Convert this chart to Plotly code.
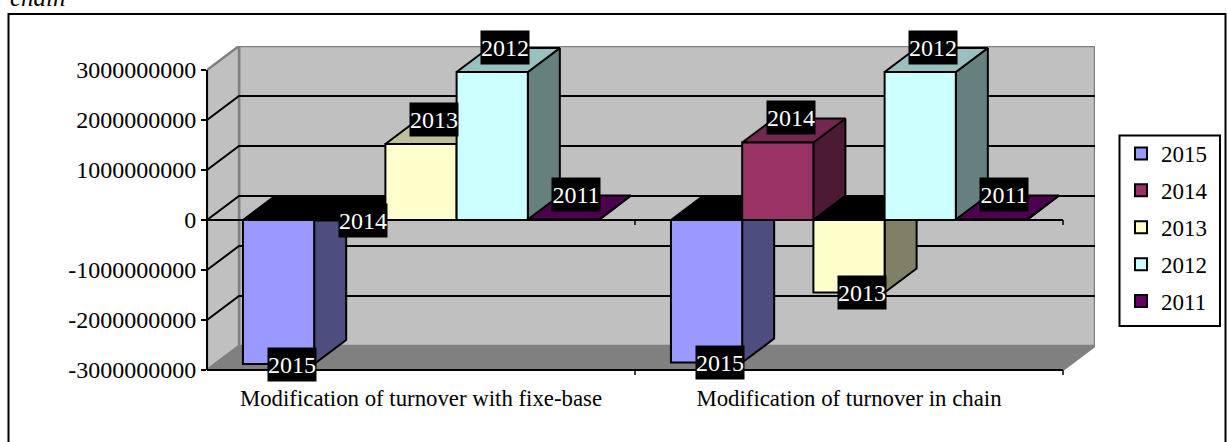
import plotly.graph_objects as go

categories = ["Modification of turnover with fixe-base", "Modification of turnover in chain"]
years = ["2015", "2014", "2013", "2012", "2011"]
values_2015 = [-2880000000, -2850000000]
values_2014 = [-10000000, 1550000000]
values_2013 = [1520000000, -1450000000]
values_2012 = [2960000000, 2960000000]
values_2011 = [10000000, 10000000]
y_ticks = [3000000000, 2000000000, 1000000000, 0, -1000000000, -2000000000, -3000000000]
y_tick_labels = [str(v) for v in y_ticks]

series = [values_2015, values_2014, values_2013, values_2012, values_2011]
front = ["#9999FF", "#993366", "#FFFFCC", "#CCFFFF", "#660066"]
side = ["#4D4D80", "#4D1A33", "#808066", "#668080", "#330033"]
top = ["#7373BF", "#732650", "#BFBF99", "#99BFBF", "#4D004D"]

# layout in pixels
W, H = 1227, 442
L, R, T, B = 207, 1095, 46, 370
CAT_PX = 428
UNIT_PX = 50  # per 1e9
DX_PX, DY_PX = 32, 24
BARGAP = 0.168
FONT = "Liberation Serif"

dx = DX_PX / CAT_PX
dy = DY_PX / UNIT_PX * 1e9
x_min, x_max = -0.5, 1.5 + dx
y_min, y_max = -3e9, 3e9 + dy
bar_w = (1 - BARGAP) / len(years)


def px(xp):
    return (xp - L) / (R - L)


def py(yp):
    return (B - yp) / (B - T)


fig = go.Figure()


def poly(xs, ys, fill, line="black", lw=2, closed=True):
    if closed:
        xs, ys = xs + xs[:1], ys + ys[:1]
    fig.add_trace(go.Scatter(
        x=xs, y=ys, mode="lines", fill="toself" if closed else None, fillcolor=fill,
        line=dict(color=line, width=lw), showlegend=False, hoverinfo="skip",
        cliponaxis=False, xaxis="x", yaxis="y"))


# gridlines on the back wall and left wall (the outermost edges stay grey)
for v in y_ticks[1:-1]:
    poly([x_min, x_min + dx, x_max], [v, v + dy, v + dy], None, closed=False)

# depth faces, left to right
for c in range(len(categories)):
    for i, vals in enumerate(series):
        v = vals[c]
        x0 = c - (1 - BARGAP) / 2 + i * bar_w
        x1 = x0 + bar_w
        poly([x1, x1 + dx, x1 + dx, x1], [0, dy, v + dy, v], side[i])
        t = max(v, 0)
        poly([x0, x1, x1 + dx, x0 + dx], [t, t, t + dy, t + dy], top[i] if v >= 0 else "#000000")

# bar fronts on the overlaid axes
for i, vals in enumerate(series):
    fig.add_trace(go.Bar(
        x=[0, 1], y=vals, name=years[i], xaxis="x2", yaxis="y2", legendgroup=years[i],
        marker=dict(color=front[i], line=dict(color="black", width=2)),
        cliponaxis=False))


def seg(x0, y0, x1, y1, color="black", width=2):
    return dict(type="line", xref="paper", yref="paper", x0=x0, y0=y0, x1=x1, y1=y1,
                line=dict(color=color, width=width), layer="above")


x_end = (1.5 - x_min) / (x_max - x_min)
x_mid = (0.5 - x_min) / (x_max - x_min)
y_zero = (0 - y_min) / (y_max - y_min)
y_top = (3e9 - y_min) / (y_max - y_min)
tick_paper = 5 / (B - T)

shapes = [
    dict(type="rect", xref="x", yref="y", x0=x_min + dx, x1=x_max, y0=y_min + dy, y1=y_max,
         fillcolor="#C0C0C0", line=dict(color="#808080", width=2.5), layer="below"),
    dict(type="path", xref="x", yref="y", layer="below", fillcolor="#C0C0C0",
         line=dict(color="#808080", width=2.5),
         path=f"M{x_min},{-3e9} L{x_min},{3e9} L{x_min + dx},{y_max} L{x_min + dx},{y_min + dy} Z"),
    dict(type="path", xref="x", yref="y", layer="below", fillcolor="#808080",
         line=dict(color="#808080", width=2),
         path=f"M{x_min},{-3e9} L{1.5},{-3e9} L{x_max},{y_min + dy} L{x_min + dx},{y_min + dy} Z"),
    # outer frame, running off the bottom of the page
    dict(type="rect", xref="paper", yref="paper", x0=px(8.5), x1=px(1225.5), y0=py(460), y1=py(14),
         line=dict(color="black", width=2), fillcolor="rgba(0,0,0,0)", layer="below"),
    # legend frame
    dict(type="rect", xref="paper", yref="paper", x0=px(1119.5), x1=px(1220), y0=py(326), y1=py(135.5),
         line=dict(color="black", width=2), fillcolor="white", layer="below"),
    # front axis lines
    seg(0, 0, 0, y_top),
    seg(0, y_zero, x_end, y_zero),
    seg(0, 0, x_end, 0),
    seg(x_mid, y_zero, x_mid, y_zero - tick_paper, width=1.5),
    seg(x_end, y_zero, x_end, y_zero - tick_paper, width=1.5),
    seg(x_mid, 0, x_mid, -tick_paper, width=1.5),
    seg(x_end, 0, x_end, -tick_paper, width=1.5),
]

annotations = [dict(
    text="<i>chain</i>", xref="paper", yref="paper", x=px(8), y=py(13), xanchor="left", yanchor="bottom",
    showarrow=False, font=dict(family=FONT, size=25, color="black"))]

for c in range(len(categories)):
    for i, vals in enumerate(series):
        v = vals[c]
        xc = c - (1 - BARGAP) / 2 + (i + 0.5) * bar_w
        annotations.append(dict(
            text=years[i], x=xc, y=v, xref="x", yref="y", showarrow=False,
            xshift=13, yshift=25 if v > 0 else 0, bgcolor="black", width=48, height=33,
            font=dict(family=FONT, size=24, color="white"), borderpad=0))

fig.update_layout(
    width=W, height=H, autosize=False,
    margin=dict(l=L, r=W - R, t=T, b=H - B, pad=0, autoexpand=False),
    paper_bgcolor="white", plot_bgcolor="rgba(0,0,0,0)",
    barmode="group", bargap=BARGAP, bargroupgap=0,
    font=dict(family=FONT, color="black"),
    shapes=shapes, annotations=annotations,
    hovermode=False,
    xaxis=dict(range=[x_min, x_max], tickmode="array", tickvals=[0, 1], ticktext=categories,
               showgrid=False, zeroline=False, showline=False, ticks="", automargin=False,
               tickfont=dict(family=FONT, size=22.8), ticklabelstandoff=12),
    yaxis=dict(range=[y_min, y_max], tickmode="array", tickvals=y_ticks, ticktext=y_tick_labels,
               showgrid=False, zeroline=False, showline=False, ticks="outside", ticklen=5,
               tickwidth=2, tickcolor="black", automargin=False,
               tickfont=dict(family=FONT, size=24), ticklabelstandoff=0),
    xaxis2=dict(range=[x_min, x_max], overlaying="x", visible=False),
    yaxis2=dict(range=[y_min, y_max], overlaying="y", visible=False),
    legend=dict(x=px(1121), y=py(132), xanchor="left", yanchor="top", borderwidth=0,
                bgcolor="rgba(0,0,0,0)", font=dict(family=FONT, size=23), traceorder="grouped",
                tracegroupgap=4, itemclick=False, itemdoubleclick=False),
)

fig.write_html("out.html", config=dict(displayModeBar=False),
               post_script="document.body.style.margin='0';document.body.style.overflow='hidden';")
